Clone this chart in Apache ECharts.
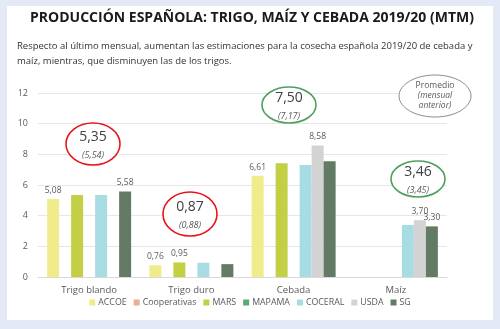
<!DOCTYPE html>
<html><head><meta charset="utf-8">
<script src="https://cdn.jsdelivr.net/npm/echarts@6/dist/echarts.min.js"></script>
<style>
html,body{margin:0;padding:0;background:#e3eaf6;}
#panel{position:absolute;left:7px;top:6px;width:486px;height:314px;background:#fff;}
#c{position:absolute;left:0;top:0;width:500px;height:329px;}
</style></head>
<body><div id="panel"></div><div id="c"></div>
<script>
const categories = ['Trigo blando', 'Trigo duro', 'Cebada', 'Maíz'];
const seriesNames = ['ACCOE', 'Cooperativas', 'MARS', 'MAPAMA', 'COCERAL', 'USDA', 'SG'];
const accoe = [5.08, 0.76, 6.61, null];
const cooperativas = [null, null, null, null];
const mars = [5.35, 0.95, 7.42, null];
const mapama = [null, null, null, null];
const coceral = [5.35, 0.93, 7.31, 3.39];
const usda = [null, null, 8.58, 3.70];
const sg = [5.58, 0.84, 7.55, 3.30];
const yTicks = [0, 2, 4, 6, 8, 10, 12];
// which bars show a value label
const labelled = {
  ACCOE: [true, true, true, false],
  Cooperativas: [false, false, false, false],
  MARS: [false, true, false, false],
  MAPAMA: [false, false, false, false],
  COCERAL: [false, false, false, false],
  USDA: [false, false, true, true],
  SG: [true, false, false, true]
};
const averages = ['5,35', '0,87', '7,50', '3,46'];
const previous = ['(5,54)', '(0,88)', '(7,17)', '(3,45)'];

const colors = ['#f0ec8c', '#e9ad94', '#c3cf45', '#5aaa72', '#a7dce2', '#d3d3d3', '#637a64'];
const values = [accoe, cooperativas, mars, mapama, coceral, usda, sg];
const FONT = '"Open Sans", "Noto Sans", sans-serif';

const chart = echarts.init(document.getElementById('c'));
const series = seriesNames.map((name, i) => ({
  name, type: 'bar', barWidth: 12, barGap: '0%',
  itemStyle: { color: colors[i] },
  data: values[i].map((v, j) => ({
    value: v,
    label: { show: labelled[name][j] && v != null }
  })),
  label: {
    position: 'top', distance: 4, color: '#595959', fontSize: 8.5, fontFamily: FONT,
    formatter: p => p.value.toFixed(2).replace('.', ',')
  }
}));

function ellipse(cx, cy, rx, ry, stroke, lw) {
  return { type: 'ellipse', shape: { cx, cy, rx, ry }, z: 50,
    style: { fill: '#fff', stroke, lineWidth: lw } };
}
function txt(x, y, text, size, italic, color) {
  return { type: 'text', x, y, z: 51,
    style: { text, fontSize: size, fontStyle: italic ? 'italic' : 'normal', fontFamily: FONT,
      fill: color, align: 'center', verticalAlign: 'middle' } };
}
const ann = [
  { cx: 93, cy: 144, rx: 27, ry: 21, c: '#e8141b' },
  { cx: 190, cy: 214, rx: 27, ry: 22, c: '#e8141b' },
  { cx: 289, cy: 105, rx: 27, ry: 18, c: '#4e9f5f' },
  { cx: 418, cy: 179, rx: 27, ry: 18, c: '#4e9f5f' }
];
const graphics = [];
ann.forEach((a, i) => {
  graphics.push(ellipse(a.cx, a.cy, a.rx, a.ry, a.c, 1.6));
  graphics.push(txt(a.cx, a.cy - 7, averages[i], 14, false, '#404040'));
  graphics.push(txt(a.cx, a.cy + 11, previous[i], 9, true, '#595959'));
});
graphics.push(ellipse(435, 96, 36, 21, '#6e6e6e', 0.8));
graphics.push(txt(435, 86, 'Promedio', 8.5, false, '#595959'));
graphics.push(txt(435, 96, '(mensual', 8.5, true, '#595959'));
graphics.push(txt(435, 106, 'anterior)', 8.5, true, '#595959'));
graphics.push({ type: 'text', x: 252, y: 18, z: 51,
  style: { text: 'PRODUCCIÓN ESPAÑOLA: TRIGO, MAÍZ Y CEBADA 2019/20 (MTM)', fontSize: 14, fontWeight: 'bold',
    fontFamily: FONT, fill: '#1a1a1a', align: 'center', verticalAlign: 'middle' } });
graphics.push({ type: 'text', x: 17, y: 54, z: 51,
  style: { text: 'Respecto al último mensual, aumentan las estimaciones para la cosecha española 2019/20 de cebada y\nmaíz, mientras, que disminuyen las de los trigos.',
    fontSize: 9.5, lineHeight: 15, fontFamily: FONT, fill: '#333', align: 'left', verticalAlign: 'middle' } });

chart.setOption({
  animation: false,
  color: colors,
  grid: { left: 38, right: 53, top: 93, bottom: 52 },
  xAxis: {
    type: 'category', data: categories,
    axisLine: { lineStyle: { color: '#d9d9d9' } },
    axisTick: { show: false },
    axisLabel: { color: '#595959', fontSize: 9.5, fontFamily: FONT, margin: 8 }
  },
  yAxis: {
    type: 'value', min: yTicks[0], max: yTicks[yTicks.length - 1], interval: 2,
    axisLine: { show: false }, axisTick: { show: false },
    splitLine: { lineStyle: { color: '#e6e6e6' } },
    axisLabel: { color: '#595959', fontSize: 9, fontFamily: FONT, margin: 10 }
  },
  legend: {
    data: seriesNames, bottom: 17, left: 'center', itemWidth: 6, itemHeight: 6, itemGap: 7,
    icon: 'rect', textStyle: { color: '#595959', fontSize: 8.8, fontFamily: FONT, padding: [0, 0, 0, -2] }
  },
  series,
  graphic: graphics
});
</script></body></html>
